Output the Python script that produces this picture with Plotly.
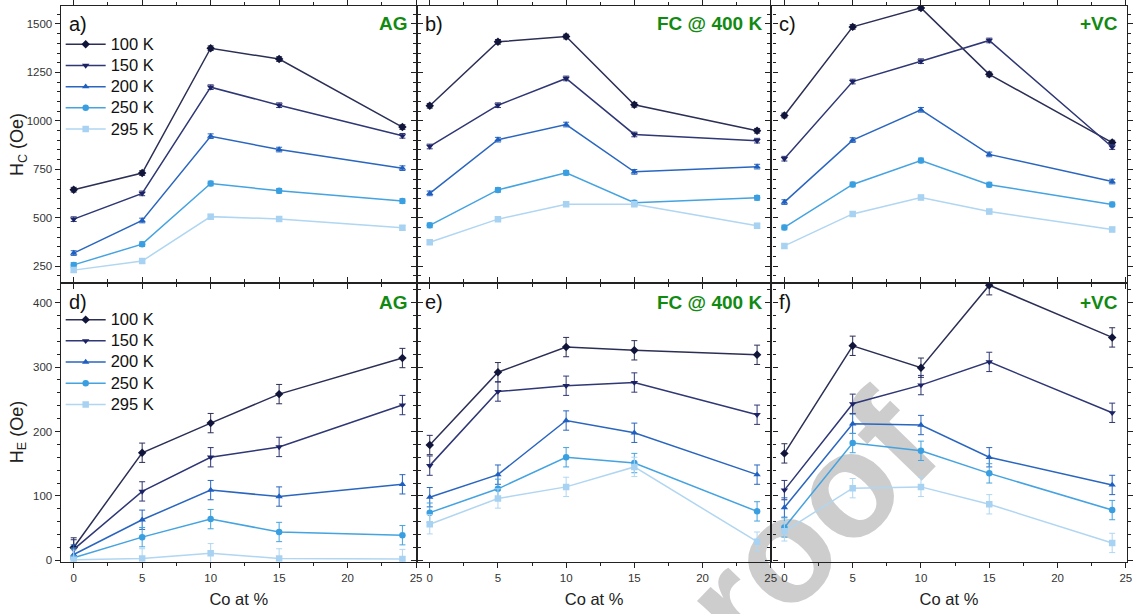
import plotly.graph_objects as go

# ---------------- data ----------------
co_at = [0, 5, 10, 15, 24]
temps = ["100 K", "150 K", "200 K", "250 K", "295 K"]

# Coercivity H_C (Oe)
hc_ag = {
    "100 K": [645, 731, 1375, 1319, 968],
    "150 K": [493, 626, 1174, 1081, 923],
    "200 K": [318, 486, 921, 852, 756],
    "250 K": [257, 364, 677, 639, 586],
    "295 K": [230, 277, 506, 494, 448],
}
hc_fc = {
    "100 K": [1078, 1408, 1435, 1083, 949],
    "150 K": [868, 1081, 1219, 930, 898],
    "200 K": [626, 903, 981, 737, 764],
    "250 K": [461, 644, 732, 578, 603],
    "295 K": [374, 493, 570, 570, 459],
}
hc_vc = {
    "100 K": [1028, 1485, 1583, 1240, 888],
    "150 K": [805, 1203, 1308, 1415, 865],
    "200 K": [581, 901, 1057, 827, 687],
    "250 K": [450, 672, 796, 671, 569],
    "295 K": [355, 520, 605, 532, 440],
}
# Exchange bias H_E (Oe)
he_ag = {
    "100 K": [20, 167, 213, 258, 314],
    "150 K": [17, 107, 160, 176, 241],
    "200 K": [9, 63, 109, 99, 118],
    "250 K": [4, 36, 64, 44, 39],
    "295 K": [1, 3, 11, 3, 2],
}
he_fc = {
    "100 K": [179, 292, 331, 326, 319],
    "150 K": [147, 262, 271, 276, 226],
    "200 K": [98, 133, 217, 198, 133],
    "250 K": [74, 111, 160, 151, 76],
    "295 K": [56, 96, 114, 145, 29],
}
he_vc = {
    "100 K": [166, 333, 299, 427, 346],
    "150 K": [109, 243, 272, 308, 229],
    "200 K": [82, 212, 210, 160, 117],
    "250 K": [51, 182, 170, 135, 78],
    "295 K": [45, 112, 114, 87, 27],
}
hc_err = [12, 12, 12, 12, 12]
he_err = [15, 15, 15, 15, 15]

panel_tags = ["a)", "b)", "c)", "d)", "e)", "f)"]
conditions = ["AG", "FC @ 400 K", "+VC"]

marker_colors = {"100 K": "#11153a", "150 K": "#1b2366", "200 K": "#1f5fbf",
                 "250 K": "#3a9fe0", "295 K": "#a8d2f2"}
line_colors = {"100 K": "#2b2f55", "150 K": "#2f3775", "200 K": "#2a66bf",
               "250 K": "#44a3e0", "295 K": "#b0d6f2"}
symbols = {"100 K": "diamond", "150 K": "triangle-down", "200 K": "triangle-up",
           "250 K": "circle", "295 K": "square"}

W, H = 1137, 614
FONT = "Arial, Liberation Sans, sans-serif"

# panel geometry (pixels)
xcols = [(61, 419), (419, 775.5), (775.5, 1132.5)]
yrows = [(3, 284), (284, 566)]

def px_x(p):
    return p / W

def px_y(p):
    return 1 - p / H

fig = go.Figure()

panels = [hc_ag, hc_fc, hc_vc, he_ag, he_fc, he_vc]
for i, data in enumerate(panels):
    row, col = divmod(i, 3)
    ax = "" if i == 0 else str(i + 1)
    err = hc_err if row == 0 else he_err
    for t in temps:
        fig.add_trace(go.Scatter(
            x=co_at, y=data[t],
            name='<span style="font-size:16.5px">' + t + "</span>",
            mode="lines+markers",
            xaxis="x" + ax, yaxis="y" + ax,
            line=dict(color=line_colors[t], width=1.5),
            marker=dict(symbol=symbols[t], size=6.5, color=marker_colors[t]),
            error_y=dict(type="data", array=err, color=line_colors[t], thickness=1, width=3),
            showlegend=(col == 0),
            legend="legend" if row == 0 else "legend2",
        ))

layout = dict(
    width=W, height=H,
    margin=dict(l=0, r=0, t=0, b=0),
    paper_bgcolor="white", plot_bgcolor="white",
    font=dict(family=FONT, color="#222"),
    showlegend=True,
)

for i in range(6):
    row, col = divmod(i, 3)
    ax = "" if i == 0 else str(i + 1)
    x0, x1 = xcols[col]
    y0, y1 = yrows[row]
    xa = dict(
        domain=[px_x(x0), px_x(x1)], anchor="y" + ax,
        range=[-0.95, 25.05], tickvals=[0, 5, 10, 15, 20, 25],
        showticklabels=(row == 1),
        ticks="outside", ticklen=5, tickwidth=1, tickcolor="#222",
        minor=dict(ticks="outside", ticklen=3, dtick=2.5, tickcolor="#222"),
        showline=True, linecolor="#222", linewidth=1.3, mirror="allticks",
        showgrid=False, zeroline=False,
        tickfont=dict(size=11.5, color="#333"),
    )
    if row == 0:
        ya = dict(range=[162, 1593], tickvals=[250, 500, 750, 1000, 1250, 1500],
                  minor=dict(ticks="outside", ticklen=3, dtick=50, tickcolor="#222"))
    else:
        ya = dict(range=[-2, 430], tickvals=[0, 100, 200, 300, 400],
                  minor=dict(ticks="outside", ticklen=3, dtick=20, tickcolor="#222"))
    ya.update(
        domain=[px_y(y1), px_y(y0)], anchor="x" + ax,
        showticklabels=(col == 0),
        ticks="outside", ticklen=5, tickwidth=1, tickcolor="#222",
        showline=True, linecolor="#222", linewidth=1.3, mirror="allticks",
        showgrid=False, zeroline=False,
        tickfont=dict(size=11.5, color="#333"),
    )
    if row == 1:
        xa["title"] = dict(text="Co at %", font=dict(size=16.5, color="#222"), standoff=10)
    layout["xaxis" + ax] = xa
    layout["yaxis" + ax] = ya

layout["legend"] = dict(x=px_x(61), y=px_y(26), xanchor="left", yanchor="top",
                        bgcolor="rgba(0,0,0,0)", font=dict(size=14, color="#111"),
                        itemwidth=40, tracegroupgap=0)
layout["legend2"] = dict(x=px_x(61), y=px_y(305), xanchor="left", yanchor="top",
                         bgcolor="rgba(0,0,0,0)", font=dict(size=14, color="#111"),
                         itemwidth=40, tracegroupgap=0)

annotations = []
# panel tags and condition labels
tag_y = [21, 303]
for i in range(6):
    row, col = divmod(i, 3)
    x0, x1 = xcols[col]
    annotations.append(dict(text=panel_tags[i], xref="paper", yref="paper",
                            x=px_x(x0 + 6), y=px_y(tag_y[row]), xanchor="left", yanchor="middle",
                            showarrow=False, font=dict(size=20, color="#111")))
    annotations.append(dict(text="<b>" + conditions[col] + "</b>", xref="paper", yref="paper",
                            x=px_x(x1 - 7), y=px_y(tag_y[row]), xanchor="right", yanchor="middle",
                            showarrow=False, font=dict(size=19, color="#118a11")))
# y titles
annotations.append(dict(text="H<sub>C</sub> (Oe)", xref="paper", yref="paper",
                        x=px_x(18), y=px_y(143), textangle=-90, showarrow=False,
                        xanchor="center", yanchor="middle", font=dict(size=18, color="#222")))
annotations.append(dict(text="H<sub>E</sub> (Oe)", xref="paper", yref="paper",
                        x=px_x(18), y=px_y(435), textangle=-90, showarrow=False,
                        xanchor="center", yanchor="middle", font=dict(size=18, color="#222")))
layout["annotations"] = annotations

# watermark, drawn beneath the data
layout["shapes"] = [dict(
    type="rect", xref="paper", yref="paper",
    x0=px_x(742), x1=px_x(802), y0=px_y(580), y1=px_y(520),
    line=dict(width=0), fillcolor="rgba(0,0,0,0)", layer="below",
    label=dict(text="proof", textangle=-46, textposition="middle center",
               font=dict(size=148, color="#cdcdcd", family=FONT, weight="bold")),
)]

fig.update_layout(**layout)
fig.write_html("out.html")
